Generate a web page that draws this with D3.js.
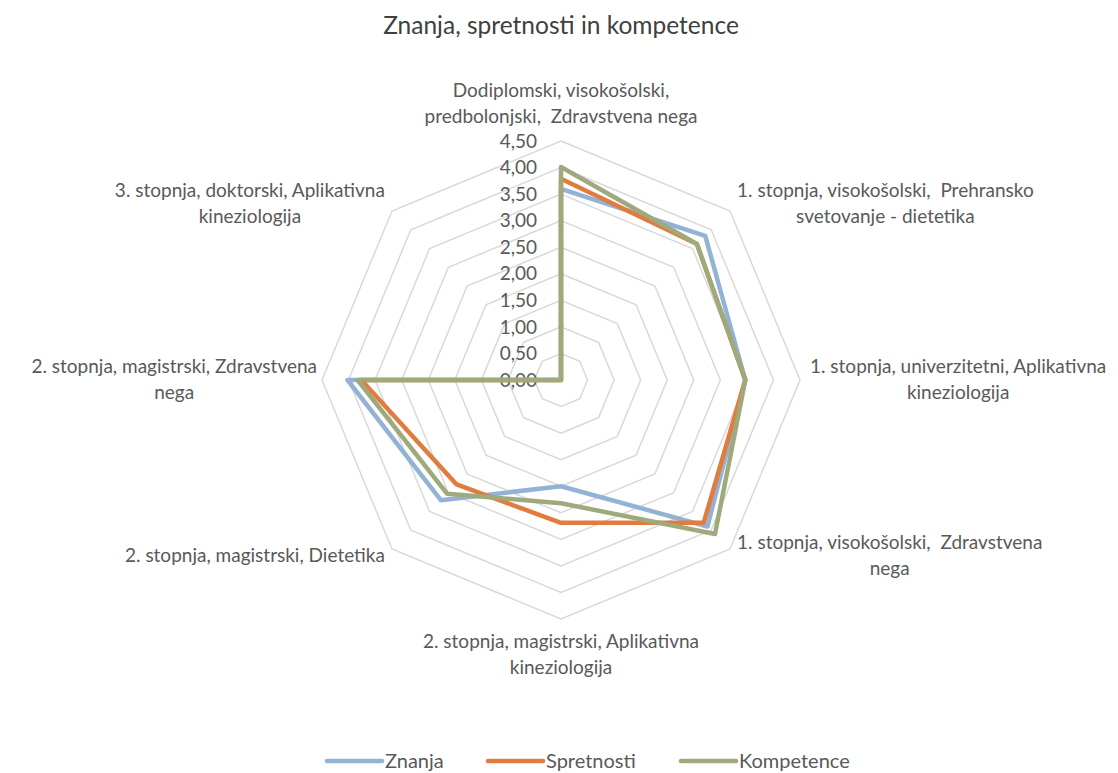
<!DOCTYPE html>
<html>
<head>
<meta charset="utf-8">
<title>Znanja, spretnosti in kompetence</title>
<script src="https://d3js.org/d3.v7.min.js"></script>
<style>
body { margin: 0; background: #fff; font-family: "Lato", "Open Sans", sans-serif; }
text { fill: #595959; white-space: pre; }
</style>
</head>
<body>
<script>
// categories (each one already split into lines, as in the chart)
var categories = [
  ["Dodiplomski, visokošolski,", "predbolonjski,  Zdravstvena nega"],
  ["1. stopnja, visokošolski,  Prehransko", "svetovanje - dietetika"],
  ["1. stopnja, univerzitetni, Aplikativna", "kineziologija"],
  ["1. stopnja, visokošolski,  Zdravstvena", "nega"],
  ["2. stopnja, magistrski, Aplikativna", "kineziologija"],
  ["2. stopnja, magistrski, Dietetika"],
  ["2. stopnja, magistrski, Zdravstvena", "nega"],
  ["3. stopnja, doktorski, Aplikativna", "kineziologija"]
];
var seriesNames = ["Znanja", "Spretnosti", "Kompetence"];
var znanja     = [3.60, 3.84, 3.47, 3.90, 2.00, 3.20, 4.02, 0];
var spretnosti = [3.79, 3.62, 3.47, 3.80, 2.69, 2.78, 3.76, 0];
var kompetence = [4.01, 3.62, 3.47, 4.10, 2.32, 3.03, 3.83, 0];
var ticks = [0, 0.5, 1, 1.5, 2, 2.5, 3, 3.5, 4, 4.5];
var colors = ["#93b3d6", "#e27c3e", "#9faa7c"];

var width = 1118, height = 773;
var cx = 561, cy = 380, R = 239;

var svg = d3.select("body").append("svg")
  .attr("width", width).attr("height", height);

svg.append("text")
  .attr("x", 561).attr("y", 34)
  .attr("text-anchor", "middle")
  .style("font-size", "24.5px")
  .style("fill", "#404040")
  .text("Znanja, spretnosti in kompetence");

var r = d3.scaleLinear().domain([0, 4.5]).range([0, R]);
var angle = d3.scaleLinear().domain([0, categories.length]).range([0, 2 * Math.PI]);
var fmt = function(v) { return d3.format(".2f")(v).replace(".", ","); };

// grid rings
var ring = d3.lineRadial().angle(function(d, i) { return angle(i); }).radius(function(d) { return r(d); })
  .curve(d3.curveLinearClosed);
svg.append("g").selectAll("path")
  .data(ticks.slice(1))
  .enter().append("path")
  .attr("transform", "translate(" + cx + "," + cy + ")")
  .attr("d", function(t) { return ring(categories.map(function() { return t; })); })
  .attr("fill", "none")
  .attr("stroke", "#d9d9d9")
  .attr("stroke-width", 1.5);

// value labels
svg.append("g").selectAll("text")
  .data(ticks)
  .enter().append("text")
  .attr("x", cx - 24)
  .attr("y", function(t) { return cy - r(t); })
  .attr("dy", "0.35em")
  .attr("text-anchor", "end")
  .style("font-size", "19px")
  .text(fmt);

// series
var series = [znanja, spretnosti, kompetence];
var line = d3.lineRadial().angle(function(d, i) { return angle(i); }).radius(function(d) { return r(d); })
  .curve(d3.curveLinearClosed);
svg.append("g").attr("transform", "translate(" + cx + "," + cy + ")")
  .selectAll("path")
  .data(series)
  .enter().append("path")
  .attr("d", line)
  .attr("fill", "none")
  .attr("stroke", function(d, i) { return colors[i]; })
  .attr("stroke-width", 4.5)
  .attr("stroke-linejoin", "round");

// category labels
var lineH = 26, pad = 10;
categories.forEach(function(lines, i) {
  var a = angle(i), s = Math.sin(a), c = Math.cos(a);
  var px = cx + (R + pad) * s, py = cy - (R + pad) * c;
  var g = svg.append("g");
  var t = g.selectAll("text").data(lines).enter().append("text")
    .attr("text-anchor", "middle")
    .style("font-size", "19px")
    .text(function(d) { return d; });
  var w = d3.max(t.nodes(), function(n) { return n.getComputedTextLength(); });
  var h = lines.length * lineH;
  var mx;
  if (s > 0.01) mx = px + w / 2;
  else if (s < -0.01) mx = px - w / 2 + (Math.abs(c) < 0.01 ? 5 : 0);
  else mx = px;
  var top;
  if (Math.abs(s) < 0.01) top = c > 0 ? py - h - 1 : py;
  else top = py - h / 2;
  t.attr("x", mx).attr("y", function(d, j) { return top + j * lineH + 19; });
});

// legend
var legX = [327, 488, 681];
var leg = svg.append("g").selectAll("g")
  .data(seriesNames)
  .enter().append("g")
  .attr("transform", function(d, i) { return "translate(" + legX[i] + ",761)"; });
leg.append("line")
  .attr("x1", 0).attr("x2", 55)
  .attr("stroke", function(d, i) { return colors[i]; })
  .attr("stroke-width", 4.5)
  .attr("stroke-linecap", "round");
leg.append("text")
  .attr("x", 58).attr("dy", "0.35em")
  .style("font-size", "20px")
  .text(function(d) { return d; });
</script>
</body>
</html>
